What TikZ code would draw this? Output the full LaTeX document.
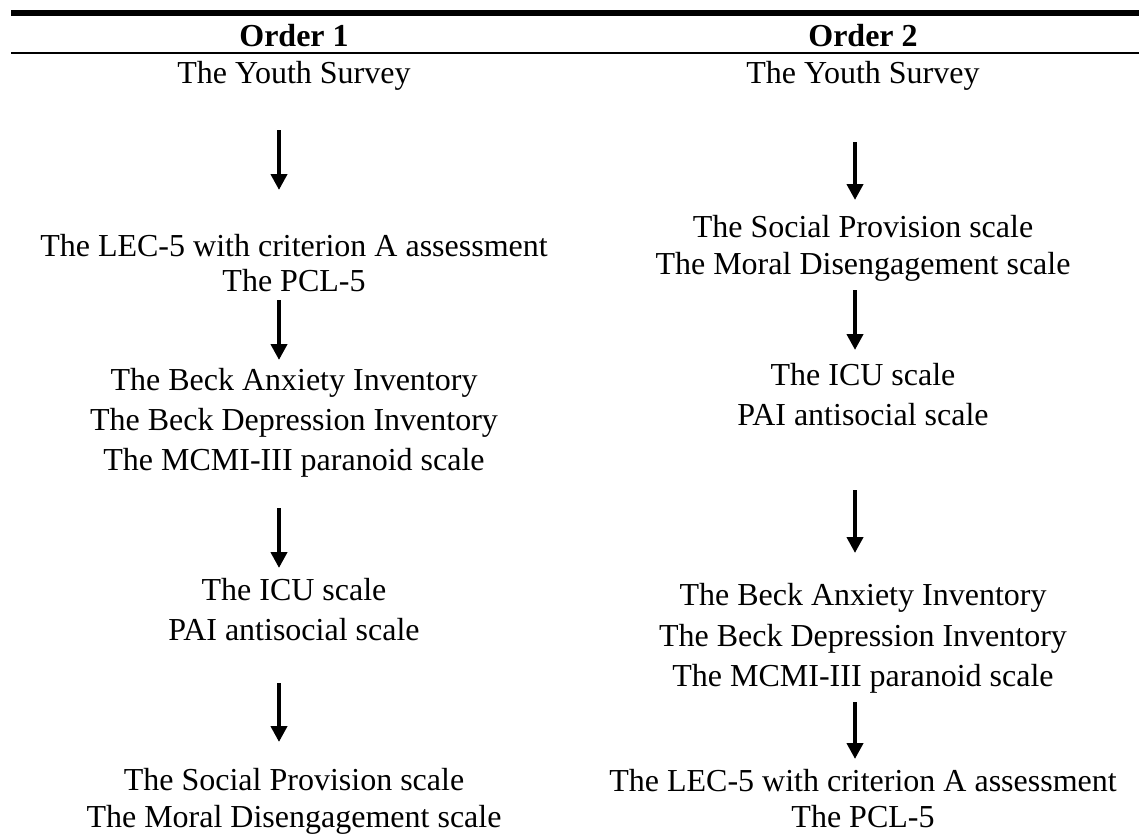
\documentclass[tikz,border=0pt]{standalone}
\usepackage{fontspec}
\setmainfont{Liberation Serif}
\usetikzlibrary{arrows.meta}
\begin{document}
\begin{tikzpicture}[x=1pt,y=-1pt,
  line/.style={inner sep=0pt, anchor=base, font=\fontsize{32}{38}\selectfont},
  head/.style={line, font=\fontsize{32}{38}\selectfont\bfseries},
  flow/.style={line width=4.3pt, -{Triangle[length=16pt,width=16pt]}},
  rule/.style={line width=#1}
]
\useasboundingbox (0,0) rectangle (1139,839);

% table rules
\draw[rule=6pt] (11,13) -- (1139,13);
\draw[rule=2pt] (11,53) -- (1139,53);

% column headers
\node[head] (h1) at (294,46) {Order 1};
\node[head] (h2) at (863,46) {Order 2};

% arrow axes
\coordinate (axL) at (279,0);
\coordinate (axR) at (855,0);

% Order 1
\node[line] (L1)  at (294,83)  {The Youth Survey};
\node[line] (L2a) at (294,256) {The LEC-5 with criterion A assessment};
\node[line] (L2b) at (294,291) {The PCL-5};
\node[line] (L3a) at (294,390) {The Beck Anxiety Inventory};
\node[line] (L3b) at (294,430) {The Beck Depression Inventory};
\node[line] (L3c) at (294,470) {The MCMI-III paranoid scale};
\node[line] (L4a) at (294,600) {The ICU scale};
\node[line] (L4b) at (294,640) {PAI antisocial scale};
\node[line] (L5a) at (294,790) {The Social Provision scale};
\node[line] (L5b) at (294,827) {The Moral Disengagement scale};

\draw[flow] ([yshift=-47pt]L1.base -| axL)  -- ([yshift=66pt]L2a.base -| axL);
\draw[flow] ([yshift=-9pt]L2b.base -| axL)  -- ([yshift=30pt]L3a.base -| axL);
\draw[flow] ([yshift=-38pt]L3c.base -| axL) -- ([yshift=32pt]L4a.base -| axL);
\draw[flow] ([yshift=-43pt]L4b.base -| axL) -- ([yshift=48pt]L5a.base -| axL);

% Order 2
\node[line] (R1)  at (863,83)  {The Youth Survey};
\node[line] (R2a) at (863,237) {The Social Provision scale};
\node[line] (R2b) at (863,274) {The Moral Disengagement scale};
\node[line] (R3a) at (863,385) {The ICU scale};
\node[line] (R3b) at (863,425) {PAI antisocial scale};
\node[line] (R4a) at (863,605) {The Beck Anxiety Inventory};
\node[line] (R4b) at (863,646) {The Beck Depression Inventory};
\node[line] (R4c) at (863,686) {The MCMI-III paranoid scale};
\node[line] (R5a) at (863,791) {The LEC-5 with criterion A assessment};
\node[line] (R5b) at (863,827) {The PCL-5};

\draw[flow] ([yshift=-59pt]R1.base -| axR)  -- ([yshift=37pt]R2a.base -| axR);
\draw[flow] ([yshift=-16pt]R2b.base -| axR) -- ([yshift=35pt]R3a.base -| axR);
\draw[flow] ([yshift=-65pt]R3b.base -| axR) -- ([yshift=52pt]R4a.base -| axR);
\draw[flow] ([yshift=-16pt]R4c.base -| axR) -- ([yshift=32pt]R5a.base -| axR);
\end{tikzpicture}
\end{document}
